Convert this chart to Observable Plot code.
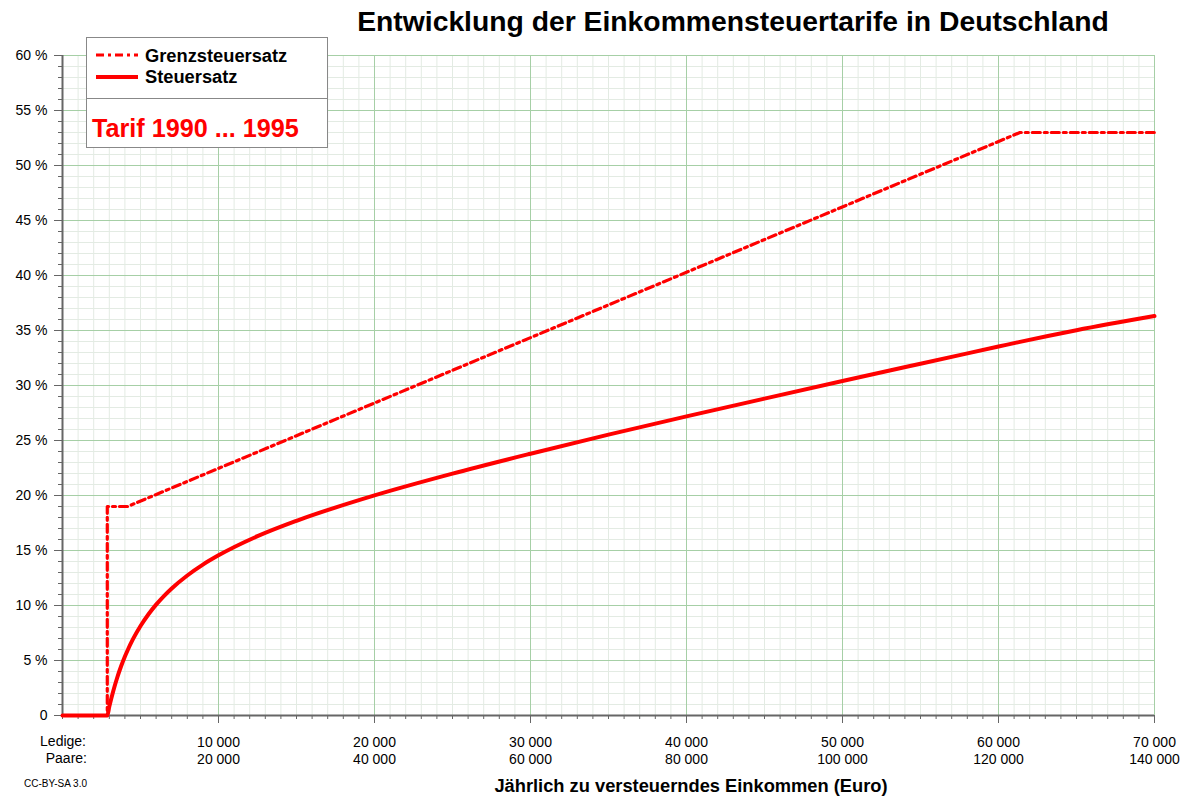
<!DOCTYPE html>
<html><head><meta charset="utf-8">
<script src="https://cdn.jsdelivr.net/npm/d3@7"></script>
<script src="https://cdn.jsdelivr.net/npm/@observablehq/plot@0.6"></script>
<style>
body{margin:0;background:#fff;font-family:"Liberation Sans",Arial,sans-serif;}
#wrap{position:relative;width:1200px;height:800px;overflow:hidden;}
#wrap svg{position:absolute;left:0;top:0;}
.abs{position:absolute;white-space:nowrap;}
#title{left:733px;top:5px;transform:translateX(-50%);font-weight:bold;font-size:28.3px;color:#000;}
#xtitle{left:691px;top:775px;transform:translateX(-50%);font-weight:bold;font-size:18.3px;}
#cc{left:24px;top:778px;font-size:10px;}
.rowlab{font-size:14px;text-align:right;width:80px;}
#legend{left:86px;top:37px;width:240px;height:109px;border:1px solid #888;background:#fff;}
#legend .div{position:absolute;left:0;top:60px;width:240px;height:1px;background:#888;}
#legend .t{position:absolute;left:58px;font-weight:bold;font-size:18.3px;}
#tarif{position:absolute;left:5px;top:76px;font-weight:bold;font-size:25.2px;color:#ff0000;}
</style>
</head><body>
<div id="wrap"></div>
<script>
// Grenzsteuersatz (marginal rate), Euro vs %
const grenzEinkommen = [0, 2871, 2871, 4169, 61376, 70000];
const grenzsteuersatz = [0, 0, 19, 19, 53, 53];
// Steuersatz (average rate), Euro vs %
const einkommen = [0, 2871, 3000, 3250, 3500, 3750, 4000, 4169, 4500, 5000, 5500, 6000, 6500, 7000, 8000, 9000, 10000, 12500, 15000, 20000, 25000, 30000, 35000, 40000, 45000, 50000, 55000, 60000, 61376, 65000, 70000];
const steuersatz = [0, 0, 0.81, 2.21, 3.41, 4.45, 5.36, 5.91, 6.89, 8.13, 9.18, 10.08, 10.86, 11.55, 12.73, 13.72, 14.56, 16.30, 17.70, 20.01, 21.99, 23.80, 25.53, 27.19, 28.81, 30.41, 31.98, 33.54, 33.97, 35.03, 36.32];
// tick labels
const xTicks = [10000, 20000, 30000, 40000, 50000, 60000, 70000];
const ledigeLabels = ["10 000", "20 000", "30 000", "40 000", "50 000", "60 000", "70 000"];
const paareLabels = ["20 000", "40 000", "60 000", "80 000", "100 000", "120 000", "140 000"];
const yTicks = [0, 5, 10, 15, 20, 25, 30, 35, 40, 45, 50, 55, 60];
const yLabels = ["0", "5 %", "10 %", "15 %", "20 %", "25 %", "30 %", "35 %", "40 %", "45 %", "50 %", "55 %", "60 %"];

const grenzData = grenzEinkommen.map((e, i) => ({e, s: grenzsteuersatz[i]}));
const satzData = einkommen.map((e, i) => ({e, s: steuersatz[i]}));
const xLab = new Map(xTicks.map((t, i) => [t, ledigeLabels[i] + "\n" + paareLabels[i]]));
const yLab = new Map(yTicks.map((t, i) => [t, yLabels[i]]));

const minorX = d3.range(0, 70001, 1000);
const minorY = d3.range(0, 61, 1);
const majorX = d3.range(10000, 70001, 10000);
const majorY = d3.range(5, 61, 5);

const chart = Plot.plot({
  width: 1200, height: 800,
  marginLeft: 62, marginRight: 46, marginTop: 55, marginBottom: 85,
  style: {fontFamily: "Liberation Sans, Arial, sans-serif", fontSize: "14px", color: "#000", background: "transparent"},
  x: {domain: [0, 70000]},
  y: {domain: [0, 60]},
  marks: [
    Plot.gridX(minorX, {stroke: "#e3ebe3", strokeOpacity: 1}),
    Plot.gridY(minorY, {stroke: "#e3ebe3", strokeOpacity: 1}),
    Plot.gridX(majorX, {stroke: "#a6cfa6", strokeOpacity: 1}),
    Plot.gridY(majorY, {stroke: "#a6cfa6", strokeOpacity: 1}),
    Plot.axisY(minorY, {tickSize: 4, tickFormat: () => "", label: null, stroke: "#666"}),
    Plot.axisY(yTicks, {tickSize: 8, tickPadding: 7, tickFormat: d => yLab.get(d), label: null, stroke: "#666", fill: "#000"}),
    Plot.axisX(minorX, {tickSize: 4, tickFormat: () => "", label: null, stroke: "#666"}),
    Plot.axisX(xTicks, {tickSize: 8, tickPadding: 12, tickFormat: d => xLab.get(d), label: null, stroke: "#666", fill: "#000", lineHeight: 1.2}),
    Plot.ruleY([0], {stroke: "#666", strokeWidth: 2}),
    Plot.ruleX([0], {stroke: "#666", strokeWidth: 2}),
    Plot.line(grenzData, {x: "e", y: "s", stroke: "#ff0000", strokeWidth: 3.2, strokeDasharray: "8,4,3,4"}),
    Plot.line(satzData, {x: "e", y: "s", stroke: "#ff0000", strokeWidth: 4, curve: "monotone-x"})
  ]
});
const wrap = document.getElementById("wrap");
wrap.appendChild(chart);
wrap.insertAdjacentHTML("beforeend", `
<div class="abs" id="title">Entwicklung der Einkommensteuertarife in Deutschland</div>
<div class="abs rowlab" style="left:6px;top:733px;">Ledige:</div>
<div class="abs rowlab" style="left:7px;top:750px;">Paare:</div>
<div class="abs" id="xtitle">Jährlich zu versteuerndes Einkommen (Euro)</div>
<div class="abs" id="cc">CC-BY-SA 3.0</div>
<div class="abs" id="legend">
  <svg width="60" height="60" style="position:absolute;left:0;top:0">
    <line x1="9" x2="51" y1="17" y2="17" stroke="#ff0000" stroke-width="3" stroke-dasharray="8,4,3,4"/>
    <line x1="9" x2="51" y1="39" y2="39" stroke="#ff0000" stroke-width="4"/>
  </svg>
  <div class="t" style="top:7px;">Grenzsteuersatz</div>
  <div class="t" style="top:28px;">Steuersatz</div>
  <div class="div"></div>
  <div id="tarif">Tarif 1990 ... 1995</div>
</div>`);
</script>
</body></html>
